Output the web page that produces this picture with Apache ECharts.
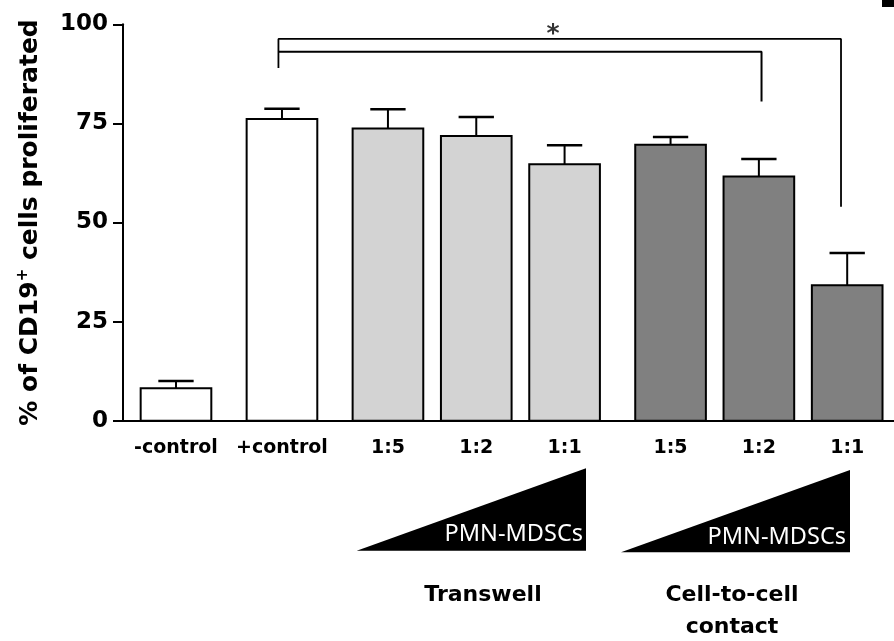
<!DOCTYPE html>
<html>
<head>
<meta charset="utf-8">
<script src="https://cdn.jsdelivr.net/npm/echarts@6/dist/echarts.min.js"></script>
<style>
html,body{margin:0;padding:0;background:#fff;}
#main{width:894px;height:641px;}
</style>
</head>
<body>
<div id="main"></div>
<script>
// ---- data ----
const categories = ['-control', '+control', '1:5', '1:2', '1:1', '1:5', '1:2', '1:1'];
const xPositions = [0, 1.2, 2.4, 3.4, 4.4, 5.6, 6.6, 7.6];
const means = [8.2, 76.1, 73.7, 71.8, 64.7, 69.6, 61.6, 34.2];
const sems = [1.8, 2.6, 4.9, 4.8, 4.8, 2.0, 4.4, 8.1];
const groups = [0, 0, 1, 1, 1, 2, 2, 2];
const yTicks = [0, 25, 50, 75, 100];
const bracketOuter = [[1.16, 89.0], [1.16, 96.3], [7.53, 96.3], [7.53, 54.0]];
const bracketInner = [[1.16, 93.1], [6.63, 93.1], [6.63, 80.5]];
const starPoint = [4.27, 97.4];
const groupLabels = ['Transwell', 'Cell-to-cell\ncontact'];
const wedgeLabel = 'PMN-MDSCs';

// ---- styles ----
const groupFill = ['#ffffff', '#d3d3d3', '#808080'];
const FONT = 'DejaVu Sans';

const barData = xPositions.map((x, i) => [x, means[i], groups[i]]);
const errData = xPositions.map((x, i) => [x, means[i], means[i] + sems[i]]);
const labelData = xPositions.map((x, i) => [x, 0, i]);

const chart = echarts.init(document.getElementById('main'), null, {renderer: 'canvas'});
const option = {
  animation: false,
  backgroundColor: '#ffffff',
  grid: {left: 123, right: 0, top: 24.3, bottom: 220.3, containLabel: false},
  xAxis: {
    type: 'value', min: -0.6, max: 8.13,
    axisLine: {show: true, onZero: false, lineStyle: {color: '#000', width: 2}},
    axisTick: {show: false}, axisLabel: {show: false}, splitLine: {show: false}
  },
  yAxis: {
    type: 'value', min: yTicks[0], max: yTicks[yTicks.length - 1], interval: 25,
    axisLine: {show: true, onZero: false, lineStyle: {color: '#000', width: 2}},
    axisTick: {show: true, length: 10, inside: false, lineStyle: {color: '#000', width: 2}},
    axisLabel: {fontFamily: FONT, fontWeight: 'bold', fontSize: 23, color: '#000', margin: 15},
    splitLine: {show: false},
    name: '% of CD19{sup|+} cells proliferated',
    nameLocation: 'middle', nameRotate: 90, nameGap: 78,
    nameTextStyle: {
      fontFamily: FONT, fontWeight: 'bold', fontSize: 25, color: '#000',
      rich: {sup: {fontFamily: FONT, fontWeight: 'bold', fontSize: 15, color: '#000', verticalAlign: 'top', padding: [0, 0, 14, 0]}}
    }
  },
  series: [
    {
      type: 'custom', name: 'bars', data: barData, z: 2,
      renderItem: function (params, api) {
        const x = api.value(0), v = api.value(1), g = api.value(2);
        const tl = api.coord([x - 0.4, v]);
        const br = api.coord([x + 0.4, 0]);
        return {
          type: 'rect',
          shape: {x: tl[0], y: tl[1], width: br[0] - tl[0], height: br[1] - tl[1]},
          style: {fill: groupFill[g], stroke: '#000', lineWidth: 2}
        };
      }
    },
    {
      type: 'custom', name: 'errors', data: errData, z: 3,
      renderItem: function (params, api) {
        const x = api.value(0);
        const p0 = api.coord([x, api.value(1)]);
        const p1 = api.coord([x, api.value(2)]);
        const hw = api.size([0.2, 0])[0];
        return {
          type: 'group',
          children: [
            {type: 'line', shape: {x1: p0[0], y1: p0[1], x2: p1[0], y2: p1[1]}, style: {stroke: '#000', lineWidth: 2}},
            {type: 'line', shape: {x1: p1[0] - hw, y1: p1[1], x2: p1[0] + hw, y2: p1[1]}, style: {stroke: '#000', lineWidth: 2.5}}
          ]
        };
      }
    },
    {
      type: 'custom', name: 'xlabels', data: labelData, clip: false, z: 4,
      renderItem: function (params, api) {
        const p = api.coord([api.value(0), 0]);
        return {
          type: 'text',
          style: {
            text: categories[api.value(2)], x: p[0], y: p[1] + 27,
            align: 'center', verticalAlign: 'middle',
            font: 'bold 19px "DejaVu Sans"', fill: '#000'
          }
        };
      }
    },
    {
      type: 'line', data: bracketOuter, symbol: 'none', silent: true,
      lineStyle: {color: '#000', width: 1.8}, z: 5
    },
    {
      type: 'line', data: bracketInner, symbol: 'none', silent: true,
      lineStyle: {color: '#000', width: 2}, z: 5
    },
    {
      type: 'scatter', data: [starPoint], symbolSize: 0, silent: true,
      label: {show: true, position: 'inside', formatter: '*', fontFamily: FONT, fontWeight: 'bold', fontSize: 25, color: '#000'}
    }
  ],
  graphic: [
    {type: 'rect', shape: {x: 882, y: 0, width: 12, height: 7}, style: {fill: '#000'}},
    {type: 'polygon', shape: {points: [[356.7, 550.7], [586, 550.7], [586, 468.3]]}, style: {fill: '#000'}},
    {type: 'polygon', shape: {points: [[621, 552.3], [850, 552.3], [850, 470]]}, style: {fill: '#000'}},
    {type: 'text', style: {text: wedgeLabel, x: 583, y: 534, align: 'right', verticalAlign: 'middle', font: '23.5px "Noto Sans"', fill: '#fff'}},
    {type: 'text', style: {text: wedgeLabel, x: 846, y: 537, align: 'right', verticalAlign: 'middle', font: '23.5px "Noto Sans"', fill: '#fff'}},
    {type: 'text', style: {text: groupLabels[0], x: 483, y: 595, align: 'center', verticalAlign: 'middle', font: 'bold 22px "DejaVu Sans"', fill: '#000'}},
    {type: 'text', style: {text: groupLabels[1], x: 732, y: 611, align: 'center', verticalAlign: 'middle', lineHeight: 32, font: 'bold 22px "DejaVu Sans"', fill: '#000'}}
  ]
};
chart.setOption(option);
</script>
</body>
</html>
